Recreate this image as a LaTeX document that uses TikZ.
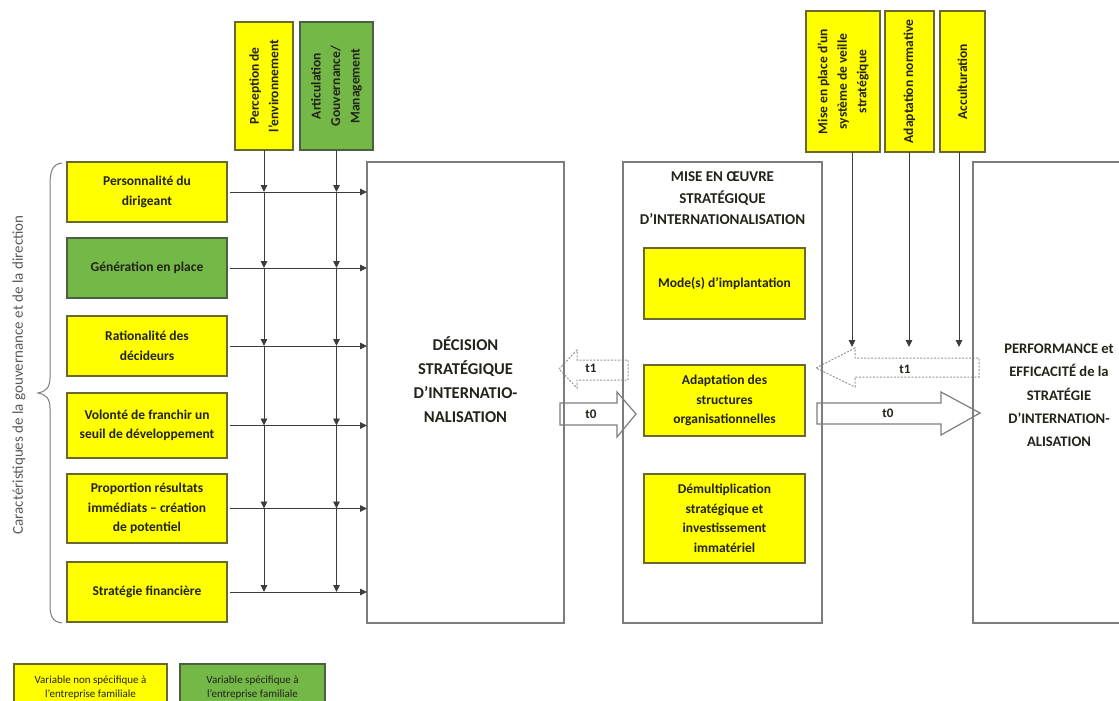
\documentclass[tikz,border=0pt]{standalone}
\usepackage{fontspec}
\setmainfont{Carlito}
\usetikzlibrary{arrows.meta,calc}
\definecolor{ylw}{RGB}{255,255,0}
\definecolor{grn}{RGB}{116,184,72}
\definecolor{ybord}{RGB}{105,105,45}
\definecolor{gbord}{RGB}{75,95,65}
\definecolor{bigb}{RGB}{125,125,125}
\definecolor{txt}{RGB}{35,35,25}
\definecolor{dotc}{RGB}{150,150,150}
\definecolor{linec}{RGB}{60,60,60}
\begin{document}
\begin{tikzpicture}[x=1pt,y=-1pt,
  every node/.style={inner sep=0pt,outer sep=0pt},
  yvar/.style={draw=ybord,fill=ylw,line width=1.1pt,align=center,text=txt,
    font=\bfseries\fontsize{13.5}{19.5}\selectfont},
  gvar/.style={yvar,fill=grn,draw=gbord},
  bigbox/.style={draw=bigb,line width=1.4pt},
  bigtext/.style={align=center,text=txt,font=\bfseries\fontsize{16.5}{24}\selectfont},
  perftext/.style={align=center,text=txt,font=\bfseries\fontsize{14.6}{23.3}\selectfont},
  midtext/.style={align=center,text=txt,font=\bfseries\fontsize{15}{21.5}\selectfont},
  arr/.style={draw=linec,line width=0.9pt,-{Triangle[length=7pt,width=6.5pt]},color=linec},
  fatarrow/.style={draw=bigb,fill=white,line width=1.2pt},
  dotarrow/.style={draw=dotc,fill=white,line width=1pt,dash pattern=on 2pt off 1.5pt},
  tlabel/.style={text=txt,font=\bfseries\fontsize{13}{15}\selectfont},
  legtext/.style={align=center,text=txt,font=\fontsize{11}{13.5}\selectfont}
]
\useasboundingbox (0,0) rectangle (1119,701);

% big arrows (drawn first, boxes on top)
\path[dotarrow] (559,369) -- (577,350) -- (577,360) -- (628,360) -- (628,380) -- (577,380) -- (577,388) -- cycle;
\node[tlabel] (t1a) at (591,368) {t1};
\path[fatarrow] (560,403) -- (617,403) -- (617,392) -- (636,414) -- (617,437) -- (617,425) -- (560,425) -- cycle;
\node[tlabel] (t0a) at (591,414) {t0};
\path[dotarrow] (816,368) -- (855,348) -- (855,358) -- (979,358) -- (979,377) -- (855,377) -- (855,387) -- cycle;
\node[tlabel] (t1b) at (905,369) {t1};
\path[fatarrow] (817,403) -- (941,403) -- (941,392) -- (980,413) -- (941,435) -- (941,424) -- (817,424) -- cycle;
\node[tlabel] (t0b) at (888,413) {t0};

% left column
\node[yvar,minimum width=160,minimum height=60] (pers) at (147,192) {Personnalité du\\dirigeant};
\node[gvar,minimum width=160,minimum height=60] (gen) at (147,268) {Génération en place};
\node[yvar,minimum width=160,minimum height=60] (rat) at (147,346) {Rationalité des\\décideurs};
\node[yvar,minimum width=160,minimum height=65] (vol) at (147,425.5) {Volonté de franchir un\\seuil de développement};
\node[yvar,minimum width=160,minimum height=69] (prop) at (147,508.5) {Proportion résultats\\immédiats – création\\de potentiel};
\node[yvar,minimum width=160,minimum height=60] (fin) at (147,592) {Stratégie financière};

% top left boxes
\node[yvar,rotate=90,minimum width=128,minimum height=58] (perc) at (264,86) {Perception de\\l’environnement};
\node[gvar,rotate=90,minimum width=128,minimum height=73] (art) at (336.5,86) {Articulation\\Gouvernance/\\Management};

% decision box
\node[bigbox,minimum width=197,minimum height=461] (dec) at (465.5,392.5) {};
\node[bigtext] (dect) at (465.5,380) {DÉCISION\\STRATÉGIQUE\\D’INTERNATIO-\\NALISATION};

% horizontal arrows
\foreach \n in {pers,gen,rat,vol,prop,fin}
  \draw[arr,shorten <=3pt] (\n.east) -- (\n.east -| dec.west);

% vertical arrows
\foreach \t in {perc,art}{
  \draw[arr] (\t.west) -- (\t.west |- pers.east);
  \draw[arr] (\t.west |- pers.east) -- (\t.west |- gen.east);
  \draw[arr] (\t.west |- gen.east) -- (\t.west |- rat.east);
  \draw[arr] (\t.west |- rat.east) -- (\t.west |- vol.east);
  \draw[arr] (\t.west |- vol.east) -- (\t.west |- prop.east);
  \draw[arr] (\t.west |- prop.east) -- (\t.west |- fin.east);
}

% mise en oeuvre
\node[bigbox,minimum width=199,minimum height=461] (mise) at (722.5,392.5) {};
\node[midtext] (miset) at (722.5,198.5) {MISE EN ŒUVRE\\STRATÉGIQUE\\D’INTERNATIONALISATION};
\node[yvar,minimum width=161,minimum height=71] (mode) at (724.5,283.5) {Mode(s) d’implantation};
\node[yvar,minimum width=161,minimum height=71] (adap) at (724.5,400.5) {Adaptation des\\structures\\organisationnelles};
\node[yvar,minimum width=161,minimum height=89] (demu) at (724.5,518.5) {Démultiplication\\stratégique et\\investissement\\immatériel};

% performance
\node[bigbox,minimum width=180,minimum height=461] (perf) at (1063,392.5) {};
\node[perftext] (perft) at (1059,395.5) {PERFORMANCE et\\EFFICACITÉ de la\\STRATÉGIE\\D’INTERNATION-\\ALISATION};

% top right boxes
\node[yvar,rotate=90,minimum width=141,minimum height=74] (veil) at (843,81.5) {Mise en place d’un\\système de veille\\stratégique};
\node[yvar,rotate=90,minimum width=141,minimum height=49] (norm) at (909.5,81.5) {Adaptation normative};
\node[yvar,rotate=90,minimum width=141,minimum height=45] (acc) at (962.5,81.5) {Acculturation};
\coordinate (e1) at (852,347);
\coordinate (e2) at (909,347);
\coordinate (e3) at (959,347);
\draw[arr] (veil.west -| e1) -- (e1);
\draw[arr] (norm.west -| e2) -- (e2);
\draw[arr] (acc.west -| e3) -- (e3);

% brace and side label
\draw[draw=bigb,line width=1pt] (62,163) .. controls (52,164) and (50,172) .. (50,185) -- (50,378)
  .. controls (50,388) and (45,392) .. (38,393) .. controls (45,394) and (50,398) .. (50,408)
  -- (50,605) .. controls (50,615) and (52,622) .. (62,623);
\node[rotate=90,text=black!65,font=\fontsize{15}{18}\selectfont] (side) at (19,375) {Caractéristiques de la gouvernance et de la direction};

% legend
\node[yvar,minimum width=153,minimum height=47,legtext] (leg1) at (90.5,687.5) {Variable non spécifique à\\l’entreprise familiale};
\node[gvar,minimum width=145,minimum height=47,legtext] (leg2) at (252.5,687.5) {Variable spécifique à\\l’entreprise familiale};
\end{tikzpicture}
\end{document}
